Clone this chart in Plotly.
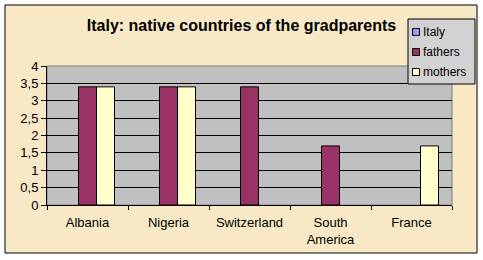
import plotly.graph_objects as go

categories = ["Albania", "Nigeria", "Switzerland", "South<br>America", "France"]
series_names = ["Italy", "fathers", "mothers"]
italy = [0, 0, 0, 0, 0]
fathers = [3.4, 3.4, 3.4, 1.7, 0]
mothers = [3.4, 3.4, 0, 0, 1.7]
y_ticks = [0, 0.5, 1, 1.5, 2, 2.5, 3, 3.5, 4]
colors = ["#9999FF", "#993366", "#FFFFCC"]

W, H = 483, 260
L, R, T, B = 47, 31, 66, 55
pw, ph = W - L - R, H - T - B

def px(x):
    return (x - L) / pw

def py(y):
    return (H - B - y) / ph

FONT = "Arial, Liberation Sans, sans-serif"

fig = go.Figure()
for name, vals, col in zip(series_names, [italy, fathers, mothers], colors):
    fig.add_trace(go.Bar(name=name, x=categories, y=vals, showlegend=False,
                         marker=dict(color=col,
                                     line=dict(color="black", width=[1 if v > 0 else 0 for v in vals]))))

shapes = [
    dict(type="rect", xref="paper", yref="paper",
         x0=px(5), x1=px(477), y0=py(253), y1=py(5),
         fillcolor="#F8E8C6", line=dict(color="black", width=1), layer="below"),
    dict(type="rect", xref="paper", yref="paper", x0=0, x1=1, y0=0, y1=1,
         fillcolor="#C0C0C0", line=dict(color="#808080", width=1), layer="below"),
    # legend box
    dict(type="rect", xref="paper", yref="paper",
         x0=px(408), x1=px(475), y0=py(84), y1=py(19),
         fillcolor="#D2D2D2", line=dict(color="black", width=1), layer="above"),
]
annotations = []
for i, (name, col) in enumerate(zip(series_names, colors)):
    cy = 32 + 20 * i
    shapes.append(dict(type="rect", xref="paper", yref="paper",
                       x0=px(412.5), x1=px(419.5), y0=py(cy + 3.5), y1=py(cy - 3.5),
                       fillcolor=col, line=dict(color="black", width=1), layer="above"))
    annotations.append(dict(text=name, xref="paper", yref="paper", x=px(420.5), y=py(cy),
                            xanchor="left", yanchor="middle", showarrow=False,
                            font=dict(family=FONT, size=12, color="black")))

fig.update_layout(
    width=W, height=H,
    margin=dict(l=L, r=R, t=T, b=B),
    paper_bgcolor="white",
    plot_bgcolor="rgba(0,0,0,0)",
    barmode="group", bargap=0.333, bargroupgap=0,
    separators=", ",
    font=dict(family=FONT, size=13, color="black"),
    title=dict(text="<b>Italy: native countries of the gradparents</b>",
               font=dict(family=FONT, size=16, color="black"),
               xref="paper", x=px(241.5), xanchor="center", y=1 - 25 / H, yanchor="middle"),
    showlegend=False,
    shapes=shapes,
    annotations=annotations,
)
fig.update_xaxes(showline=True, linecolor="black", linewidth=1, ticks="outside", ticklen=4,
                 tickcolor="black", tickson="boundaries", showgrid=False, ticklabelstandoff=5,
                 tickfont=dict(family=FONT, size=13, color="black"))
fig.update_yaxes(range=[0, 4], tickvals=y_ticks, showline=True, linecolor="black", linewidth=1,
                 ticks="outside", ticklen=5, tickcolor="black", showgrid=True,
                 gridcolor="black", gridwidth=1, zeroline=False,
                 tickfont=dict(family=FONT, size=13, color="black"))

fig.write_html("out.html")
